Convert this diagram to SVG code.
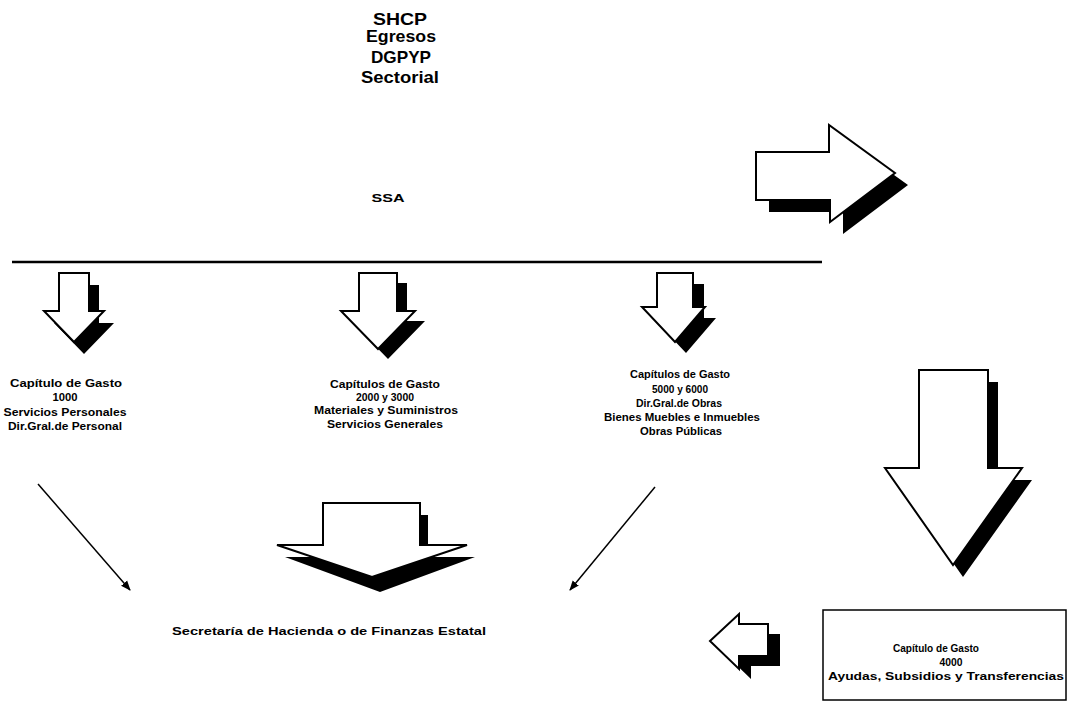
<svg xmlns="http://www.w3.org/2000/svg" width="1069" height="704" viewBox="0 0 1069 704">
<defs>
<style>
.t{font-family:"Liberation Sans",Arial,sans-serif;font-weight:bold;fill:#000;text-anchor:middle}
.h{font-size:17px}
.s{font-size:11.5px}
.w{fill:#fff;stroke:#000;stroke-width:2;stroke-linejoin:miter}
.sh{fill:#000;stroke:none}
.ln{stroke:#000;fill:none}
</style>
<marker id="ah" viewBox="0 0 10 10" refX="9" refY="5" markerWidth="10" markerHeight="10" markerUnits="userSpaceOnUse" orient="auto">
<path d="M0,1 L10,5 L0,9 z" fill="#000"/>
</marker>
</defs>
<rect width="1069" height="704" fill="#fff"/>

<g id="title">
<text class="t h" x="400" y="25" textLength="54" lengthAdjust="spacingAndGlyphs">SHCP</text>
<text class="t h" x="401" y="42" textLength="70" lengthAdjust="spacingAndGlyphs">Egresos</text>
<text class="t h" x="401" y="63" textLength="60" lengthAdjust="spacingAndGlyphs">DGPYP</text>
<text class="t h" x="400" y="83" textLength="78" lengthAdjust="spacingAndGlyphs">Sectorial</text>
</g>

<g id="ssa">
<text class="t s" x="388" y="202" textLength="33" lengthAdjust="spacingAndGlyphs">SSA</text>
</g>

<g id="right-arrow">
<polygon class="sh" points="769,164 841,164 841,137 908,185 843,234 843,212 769,212"/>
<polygon class="w" points="756,152 829,152 829,125 895,173 830,222 830,200 756,200"/>
</g>

<g id="arrow1">
<polygon class="sh" points="69,285 99,285 99,323 114,323 84,354 54,323 69,323"/>
<polygon class="w" points="59,273 89,273 89,311 104,311 74,342 44,311 59,311"/>
</g>
<g id="arrow2">
<polygon class="sh" points="369,283 407,283 407,321 425,321 388,359 351,321 369,321"/>
<polygon class="w" points="359,273 397,273 397,311 415,311 378,349 341,311 359,311"/>
</g>
<g id="arrow3">
<polygon class="sh" points="668,284 704,284 704,318 716,318 686,353 653,318 668,318"/>
<polygon class="w" points="657,273 693,273 693,307 705,307 675,342 642,307 657,307"/>
</g>

<g id="block1">
<text class="t s" x="66" y="387" textLength="112" lengthAdjust="spacingAndGlyphs">Capítulo de Gasto</text>
<text class="t s" x="65" y="401" textLength="25" lengthAdjust="spacingAndGlyphs">1000</text>
<text class="t s" x="65" y="416" textLength="123" lengthAdjust="spacingAndGlyphs">Servicios Personales</text>
<text class="t s" x="65" y="430" textLength="114" lengthAdjust="spacingAndGlyphs">Dir.Gral.de Personal</text>
</g>
<g id="block2">
<text class="t s" x="385" y="388" textLength="110" lengthAdjust="spacingAndGlyphs">Capítulos de Gasto</text>
<text class="t s" x="385" y="401" textLength="58" lengthAdjust="spacingAndGlyphs">2000 y 3000</text>
<text class="t s" x="386" y="414" textLength="144" lengthAdjust="spacingAndGlyphs">Materiales y Suministros</text>
<text class="t s" x="385" y="428" textLength="116" lengthAdjust="spacingAndGlyphs">Servicios Generales</text>
</g>
<g id="block3">
<text class="t s" x="680" y="378" textLength="100" lengthAdjust="spacingAndGlyphs">Capítulos de Gasto</text>
<text class="t s" x="680" y="393" textLength="56" lengthAdjust="spacingAndGlyphs">5000 y 6000</text>
<text class="t s" x="679" y="407" textLength="86" lengthAdjust="spacingAndGlyphs">Dir.Gral.de Obras</text>
<text class="t s" x="682" y="421" textLength="156" lengthAdjust="spacingAndGlyphs">Bienes Muebles e Inmuebles</text>
<text class="t s" x="681" y="435" textLength="82" lengthAdjust="spacingAndGlyphs">Obras Públicas</text>
</g>

<g id="big-down-arrow">
<polygon class="sh" points="929,382 998,382 998,480 1032,480 963,577 895,480 929,480"/>
<polygon class="w" points="919,370 988,370 988,468 1022,468 953,565 885,468 919,468"/>
</g>

<g id="center-arrow">
<polygon class="sh" points="331,515 428,515 428,557 475,557 380,592 285,557 331,557"/>
<polygon class="w" points="323,503 420,503 420,545 467,545 372,577 277,545 323,545"/>
</g>

<g id="hacienda">
<text class="t s" x="329" y="635" textLength="314" lengthAdjust="spacingAndGlyphs">Secretaría de Hacienda o de Finanzas Estatal</text>
</g>

<g id="left-arrow">
<polygon class="sh" points="722,651 751,624 751,634 780,634 780,666 751,666 751,679"/>
<polygon class="w" points="710,641 739,614 739,624 768,624 768,656 739,656 739,669"/>
</g>

<g id="box4000">
<rect x="823" y="610" width="243" height="90" fill="#fff" stroke="#000" stroke-width="1.5"/>
<text class="t s" x="936" y="652" textLength="86" lengthAdjust="spacingAndGlyphs">Capítulo de Gasto</text>
<text class="t s" x="951" y="666" textLength="23" lengthAdjust="spacingAndGlyphs">4000</text>
<text class="t s" x="946" y="680" textLength="236" lengthAdjust="spacingAndGlyphs">Ayudas, Subsidios y Transferencias</text>
</g>

<g id="connectors">
<line class="ln" x1="12" y1="262" x2="822" y2="262" stroke-width="2.5"/>
<line class="ln" x1="38" y1="484" x2="130" y2="590" stroke-width="1.5" marker-end="url(#ah)"/>
<line class="ln" x1="655" y1="487" x2="570" y2="590" stroke-width="1.5" marker-end="url(#ah)"/>
</g>
</svg>
